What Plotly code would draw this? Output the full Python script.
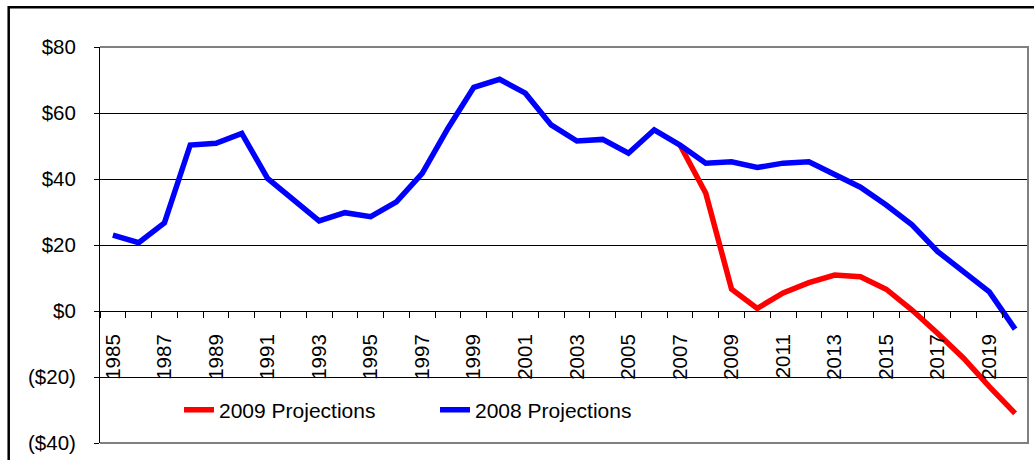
import plotly.graph_objects as go

years = list(range(1985, 2021))
proj_2008 = [23.0, 20.7, 26.7, 50.3, 50.8, 53.8, 40.2, 33.8, 27.3, 29.8,
             28.6, 33.1, 41.7, 55.4, 67.8, 70.2, 66.0, 56.4, 51.5, 52.0,
             47.8, 54.9, 50.3, 44.8, 45.2, 43.5, 44.8, 45.2, 41.5, 37.5,
             32.1, 26.1, 18.0, 11.9, 5.8, -5.5]
proj_2009 = [None] * 22 + [50.3, 35.7, 6.6, 0.8, 5.5, 8.6, 10.9, 10.4,
                            6.6, 0.3, -6.8, -14.3, -22.9, -31.0]
y_ticks = [-40, -20, 0, 20, 40, 60, 80]
y_tick_text = ["($40)", "($20)", "$0", "$20", "$40", "$60", "$80"]
x_tick_years = list(range(1985, 2021, 2))

W, H = 1034, 460
L, R, T, B = 100, 6, 47, 17
pw, ph = W - L - R, H - T - B
FONT = "Liberation Sans, Arial, sans-serif"


def px_x(x):
    return (x - L) / pw


def px_y(y):
    return (H - B - y) / ph


fig = go.Figure()
fig.add_trace(go.Scatter(x=years, y=proj_2009, mode="lines", name="2009 Projections",
                         line=dict(color="#ff0000", width=5.5), connectgaps=False))
fig.add_trace(go.Scatter(x=years, y=proj_2008, mode="lines", name="2008 Projections",
                         line=dict(color="#0000ff", width=5.5)))

fig.update_layout(
    width=W, height=H,
    margin=dict(l=L, r=R, t=T, b=B, autoexpand=False),
    paper_bgcolor="white", plot_bgcolor="white",
    font=dict(family=FONT, size=20.5, color="black"),
    hovermode=False,
    showlegend=True,
    legend=dict(orientation="h", x=px_x(179), y=px_y(410), xanchor="left", yanchor="middle",
                font=dict(size=21), bgcolor="rgba(0,0,0,0)",
                entrywidth=211, entrywidthmode="pixels", traceorder="normal"),
    xaxis=dict(
        range=[1984.5, 2020.5], anchor="free", position=1/3,
        automargin=False,
        showgrid=False, zeroline=False,
        showline=True, linecolor="black", linewidth=1,
        tickvals=x_tick_years, ticktext=[str(y) for y in x_tick_years],
        tickangle=-90, ticks="", ticklabelstandoff=14,
        minor=dict(tickvals=[y - 0.5 for y in years] + [2020.5], ticks="outside",
                   ticklen=6, tickcolor="black", showgrid=False),
    ),
    yaxis=dict(
        range=[-40, 80], domain=[0, 1],
        automargin=False,
        tickvals=y_ticks, ticktext=y_tick_text,
        showgrid=True, gridcolor="black", gridwidth=1,
        zeroline=False,
        showline=True, linecolor="black", linewidth=1,
        ticks="outside", ticklen=5, tickcolor="black",
        ticklabelstandoff=14,
    ),
    shapes=[
        dict(type="path", xref="paper", yref="paper",
             path="M 0,1 L 1,1 L 1,0 L 0,0",
             line=dict(color="#808080", width=2)),
        dict(type="rect", xref="paper", yref="paper",
             x0=px_x(8.7), y0=px_y(520), x1=px_x(1100), y1=px_y(7.3),
             line=dict(color="black", width=2.5)),
    ],
)

fig.write_html("out.html", config={"displayModeBar": False},
               post_script="document.body.style.margin='0';document.body.style.overflow='hidden';")
